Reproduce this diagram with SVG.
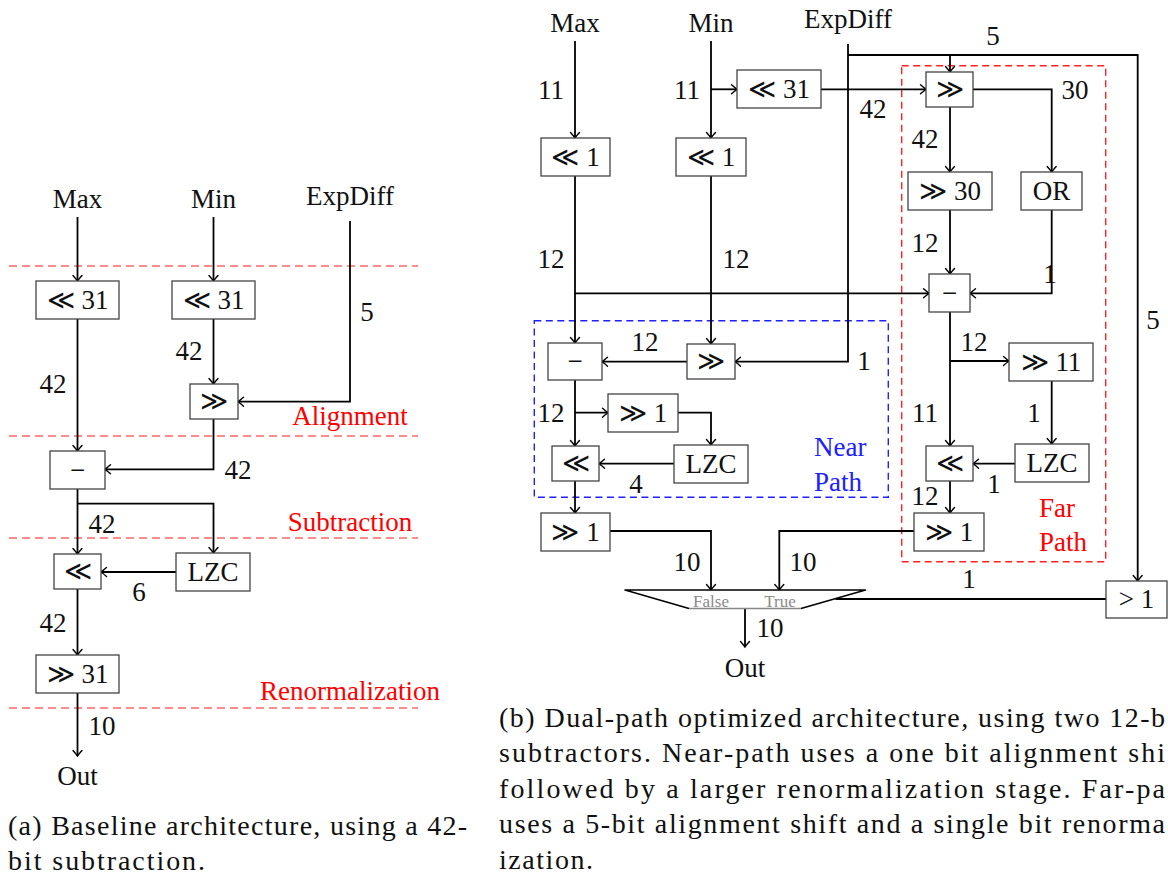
<svg xmlns="http://www.w3.org/2000/svg" width="1168" height="881" viewBox="0 0 1168 881">
<defs>
<marker id="arr" markerUnits="userSpaceOnUse" markerWidth="12" markerHeight="12" viewBox="-8 -6 10 12" refX="0" refY="0" orient="auto">
<path d="M-5.5,-4.5 Q-1.5,-1 0,0 Q-1.5,1 -5.5,4.5" fill="none" stroke="#000" stroke-width="1.4" stroke-linecap="round"/>
</marker>
<style>
text{font-family:"Liberation Serif","DejaVu Serif",serif;font-size:27px;fill:#111}
.c{text-anchor:middle}
.box{fill:#fff;stroke:#444;stroke-width:1.3}
.w{fill:none;stroke:#000;stroke-width:1.8}
.a{marker-end:url(#arr)}
.stage{stroke:#ff0000;stroke-opacity:0.6;stroke-width:1.5;stroke-dasharray:8,5;fill:none}
.red{fill:#ff0000}
.blue{fill:#2020ff}
.cap{font-size:28px}
.sym{font-family:"DejaVu Serif","Liberation Serif",serif;font-size:24px}
</style>
</defs>
<rect width="1168" height="881" fill="#fff"/>

<!-- ===== Left diagram (a) ===== -->
<g id="stages-a">
<line class="stage" x1="9" y1="266" x2="418" y2="266"/>
<line class="stage" x1="9" y1="436" x2="418" y2="436"/>
<line class="stage" x1="9" y1="538" x2="418" y2="538"/>
<line class="stage" x1="9" y1="708" x2="418" y2="708"/>
<text class="c red" x="350" y="425">Alignment</text>
<text class="c red" x="350" y="531">Subtraction</text>
<text class="c red" x="350" y="700">Renormalization</text>
</g>

<g id="connectors-a">
<path class="w a" d="M77.5,217 V281"/>
<path class="w a" d="M213.5,217 V281"/>
<path class="w a" d="M350,221 V401.7 H238"/>
<path class="w a" d="M213.5,319 V384"/>
<path class="w a" d="M77.5,319 V451"/>
<path class="w a" d="M213.5,419 V469.3 H105"/>
<path class="w a" d="M77.5,489 V554"/>
<path class="w a" d="M77.5,503.7 H213.5 V553"/>
<path class="w a" d="M176,572 H101"/>
<path class="w a" d="M77.5,589 V655"/>
<path class="w a" d="M77.5,693 V756"/>
</g>

<g id="labels-a">
<text class="c" x="77.5" y="208">Max</text>
<text class="c" x="213.5" y="208">Min</text>
<text class="c" x="350" y="205">ExpDiff</text>
<text class="c" x="367" y="321">5</text>
<text class="c" x="189" y="360">42</text>
<text class="c" x="53" y="393">42</text>
<text class="c" x="238" y="479">42</text>
<text class="c" x="102" y="533">42</text>
<text class="c" x="139" y="601">6</text>
<text class="c" x="53" y="632">42</text>
<text class="c" x="102" y="735">10</text>
<text class="c" x="77.5" y="785">Out</text>
</g>

<g id="a-shl31-max"><rect class="box" x="36" y="281" width="83" height="38"/><text class="c" x="77.5" y="309">≪ 31</text></g>
<g id="a-shl31-min"><rect class="box" x="172" y="281" width="83" height="38"/><text class="c" x="213.5" y="309">≪ 31</text></g>
<g id="a-shr"><rect class="box" x="190" y="384" width="48" height="35"/><text class="c" x="214" y="410">≫</text></g>
<g id="a-sub"><rect class="box" x="50" y="451" width="55" height="38"/><text class="c" x="77.5" y="479">−</text></g>
<g id="a-shl"><rect class="box" x="54" y="554" width="47" height="35"/><text class="c" x="77.5" y="580">≪</text></g>
<g id="a-lzc"><rect class="box" x="176" y="553" width="74" height="38"/><text class="c" x="213" y="581">LZC</text></g>
<g id="a-shr31"><rect class="box" x="36" y="655" width="83" height="38"/><text class="c" x="77.5" y="683">≫ 31</text></g>

<g id="caption-a">
<text class="cap" x="8" y="835" textLength="459" lengthAdjust="spacing">(a) Baseline architecture, using a 42-</text>
<text class="cap" x="8" y="870" textLength="197" lengthAdjust="spacing">bit subtraction.</text>
</g>

<!-- ===== Right diagram (b) ===== -->
<g id="near-path-region">
<rect x="534.3" y="320.7" width="354" height="176.6" fill="none" stroke="#2020ff" stroke-width="1.4" stroke-dasharray="7,4.5"/>
<text class="blue" x="814" y="456">Near</text>
<text class="blue" x="814" y="491">Path</text>
</g>
<g id="far-path-region">
<rect x="901.7" y="65.7" width="204" height="496" fill="none" stroke="#ff2020" stroke-width="1.4" stroke-dasharray="7,4.5"/>
<text class="red" x="1039" y="517">Far</text>
<text class="red" x="1039" y="551">Path</text>
</g>

<g id="connectors-b">
<path class="w a" d="M575,41 V138"/>
<path class="w a" d="M711,41 V138"/>
<path class="w a" d="M711,89.3 H737"/>
<path class="w a" d="M821,89.3 H926"/>
<path class="w a" d="M848,44 V361.7 H735"/>
<path class="w a" d="M848,55 H1137.7 V581"/>
<path class="w a" d="M950,55 V72"/>
<path class="w a" d="M950,107 V172"/>
<path class="w a" d="M973,89.3 H1051.7 V172"/>
<path class="w a" d="M950,210 V274"/>
<path class="w a" d="M1051.7,210 V293.3 H970"/>
<path class="w a" d="M575,176 V343"/>
<path class="w a" d="M575,293.3 H929"/>
<path class="w a" d="M711,176 V344"/>
<path class="w a" d="M687,361.7 H602"/>
<path class="w a" d="M575,380 V446"/>
<path class="w a" d="M575,412.7 H608"/>
<path class="w a" d="M678,412.7 H711 V445"/>
<path class="w a" d="M674,463.7 H599"/>
<path class="w a" d="M575,481 V513"/>
<path class="w a" d="M610,531 H711 V590"/>
<path class="w a" d="M950,312 V446"/>
<path class="w a" d="M950,361 H1009"/>
<path class="w a" d="M1051.7,381 V444"/>
<path class="w a" d="M1015,463.7 H973"/>
<path class="w a" d="M950,481 V513"/>
<path class="w a" d="M914,531 H779.3 V590"/>
<path class="w" d="M1106,599 H835.5"/>
<path class="w a" d="M745,608.5 V647"/>
</g>

<g id="labels-b">
<text class="c" x="575" y="31.5">Max</text>
<text class="c" x="711" y="31.5">Min</text>
<text class="c" x="848" y="28">ExpDiff</text>
<text class="c" x="551" y="99">11</text>
<text class="c" x="687" y="99">11</text>
<text class="c" x="993" y="45">5</text>
<text class="c" x="873" y="118">42</text>
<text class="c" x="1075" y="99">30</text>
<text class="c" x="925" y="148">42</text>
<text class="c" x="551" y="268">12</text>
<text class="c" x="736" y="268">12</text>
<text class="c" x="925" y="252">12</text>
<text class="c" x="1050" y="283">1</text>
<text class="c" x="1153" y="329">5</text>
<text class="c" x="645" y="351">12</text>
<text class="c" x="864" y="370">1</text>
<text class="c" x="551" y="422">12</text>
<text class="c" x="636" y="493">4</text>
<text class="c" x="974" y="351">12</text>
<text class="c" x="925" y="422">11</text>
<text class="c" x="1034" y="422">1</text>
<text class="c" x="994" y="493">1</text>
<text class="c" x="925" y="505">12</text>
<text class="c" x="687" y="571">10</text>
<text class="c" x="803" y="571">10</text>
<text class="c" x="969" y="588">1</text>
<text class="c" x="770" y="637">10</text>
<text class="c" x="745" y="677">Out</text>
</g>

<g id="b-shl31"><rect class="box" x="737" y="70" width="84" height="38"/><text class="c" x="779" y="98">≪ 31</text></g>
<g id="b-shl1-max"><rect class="box" x="541" y="138" width="69" height="38"/><text class="c" x="575.5" y="166">≪ 1</text></g>
<g id="b-shl1-min"><rect class="box" x="676" y="138" width="70" height="38"/><text class="c" x="711" y="166">≪ 1</text></g>
<g id="b-far-shr"><rect class="box" x="926" y="72" width="47" height="35"/><text class="c" x="949.5" y="98">≫</text></g>
<g id="b-far-shr30"><rect class="box" x="908" y="172" width="84" height="38"/><text class="c" x="950" y="200">≫ 30</text></g>
<g id="b-far-or"><rect class="box" x="1021" y="172" width="61" height="38"/><text class="c" x="1051.5" y="200">OR</text></g>
<g id="b-far-sub"><rect class="box" x="929" y="274" width="41" height="38"/><text class="c" x="949.5" y="302">−</text></g>
<g id="b-near-sub"><rect class="box" x="548" y="343" width="54" height="37"/><text class="c" x="575" y="370">−</text></g>
<g id="b-near-shr"><rect class="box" x="687" y="344" width="48" height="35"/><text class="c" x="711" y="370">≫</text></g>
<g id="b-near-shr1"><rect class="box" x="608" y="394" width="70" height="38"/><text class="c" x="643" y="422">≫ 1</text></g>
<g id="b-near-shl"><rect class="box" x="552" y="446" width="47" height="35"/><text class="c" x="575.5" y="472">≪</text></g>
<g id="b-near-lzc"><rect class="box" x="674" y="445" width="74" height="38"/><text class="c" x="711" y="473">LZC</text></g>
<g id="b-near-out"><rect class="box" x="541" y="513" width="69" height="38"/><text class="c" x="575.5" y="541">≫ 1</text></g>
<g id="b-far-shr11"><rect class="box" x="1009" y="343" width="84" height="38"/><text class="c" x="1051" y="371">≫ 11</text></g>
<g id="b-far-shl"><rect class="box" x="926" y="446" width="47" height="35"/><text class="c" x="949.5" y="472">≪</text></g>
<g id="b-far-lzc"><rect class="box" x="1015" y="444" width="74" height="38"/><text class="c" x="1052" y="472">LZC</text></g>
<g id="b-far-out"><rect class="box" x="914" y="513" width="70" height="38"/><text class="c" x="949" y="541">≫ 1</text></g>
<g id="b-gt1"><rect class="box" x="1106" y="581" width="61" height="37"/><text class="c" x="1136.5" y="608">&gt; 1</text></g>

<g id="b-mux">
<path d="M689,608.5 L625,590 H865.5 L801,608.5" fill="#fff" stroke="#000" stroke-width="1.5" stroke-linejoin="round"/>
<line x1="689" y1="608.5" x2="801" y2="608.5" stroke="#888" stroke-width="1.5"/>
<text class="c" x="711" y="606.5" style="font-size:17px;fill:#8a8a8a">False</text>
<text class="c" x="780" y="606.5" style="font-size:17px;fill:#8a8a8a">True</text>
</g>

<g id="caption-b">
<text class="cap" x="499" y="727" textLength="666" lengthAdjust="spacing">(b) Dual-path optimized architecture, using two 12-b</text>
<text class="cap" x="499" y="762" textLength="666" lengthAdjust="spacing">subtractors. Near-path uses a one bit alignment shi</text>
<text class="cap" x="499" y="798" textLength="666" lengthAdjust="spacing">followed by a larger renormalization stage.  Far-pa</text>
<text class="cap" x="499" y="833" textLength="666" lengthAdjust="spacing">uses a 5-bit alignment shift and a single bit renorma</text>
<text class="cap" x="499" y="869" textLength="94" lengthAdjust="spacing">ization.</text>
</g>
</svg>
